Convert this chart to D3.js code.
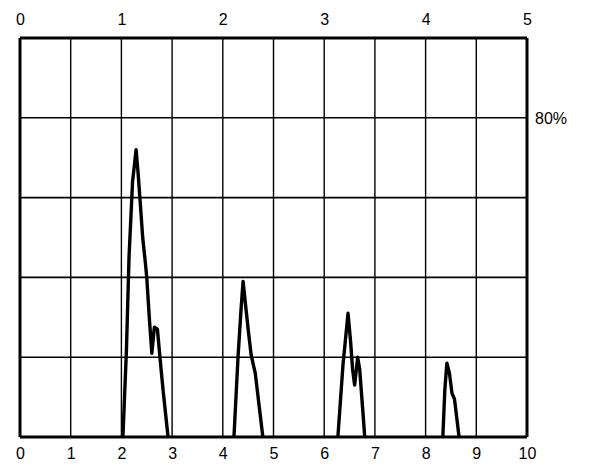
<!DOCTYPE html>
<head>
  <meta charset="utf-8">
  <script src="https://d3js.org/d3.v7.min.js"></script>
  <style>
    body { margin:0; background:#fff; }
    text { font-family: "Liberation Sans", Arial, sans-serif; font-size:16px; fill:#000; }
  </style>
</head>
<body>
<script>
var width = 592, height = 466;

// top scale 0..5, bottom scale 0..10, y in percent
var topTicks = [0, 1, 2, 3, 4, 5];
var bottomTicks = [0, 1, 2, 3, 4, 5, 6, 7, 8, 9, 10];
var yGrid = [0, 20, 40, 60, 80, 100];

// peaks: [x on bottom scale, percent]
var peak1 = [[2.03,0],[2.1,22],[2.15,45],[2.22,64],[2.29,72],[2.33,66],[2.37,59],[2.42,50],[2.47,44],[2.5,40],[2.55,30],[2.6,21],[2.65,27.5],[2.71,27],[2.76,20],[2.82,12],[2.92,0]];
var peak2 = [[4.22,0],[4.3,20],[4.36,32],[4.4,39],[4.45,33],[4.5,27],[4.56,20.5],[4.64,16],[4.79,0]];
var peak3 = [[6.27,0],[6.37,18],[6.47,31],[6.52,24],[6.56,17],[6.6,13],[6.66,20],[6.7,17],[6.8,0]];
var peak4 = [[8.34,0],[8.38,12],[8.42,18.5],[8.47,16],[8.52,11],[8.57,9.5],[8.66,0]];
var peaks = [peak1, peak2, peak3, peak4];

var svg = d3.select("body").append("svg")
    .attr("width", width)
    .attr("height", height);

var x = d3.scaleLinear().domain([0, 10]).range([20, 527]);
var xTop = d3.scaleLinear().domain([0, 5]).range([20, 527]);
var y = d3.scaleLinear().domain([0, 100]).range([437, 38]);

// grid
svg.selectAll("line.v")
    .data(bottomTicks)
    .enter().append("line")
    .attr("x1", d => x(d)).attr("x2", d => x(d))
    .attr("y1", y(0)).attr("y2", y(100))
    .attr("stroke", "#000")
    .attr("stroke-width", d => (d == 0 || d == 10) ? 3 : 1.4);

svg.selectAll("line.h")
    .data(yGrid)
    .enter().append("line")
    .attr("x1", x(0)).attr("x2", x(10))
    .attr("y1", d => y(d)).attr("y2", d => y(d))
    .attr("stroke", "#000")
    .attr("stroke-width", d => (d == 0 || d == 100) ? 3 : 1.6);

// axes labels
var bottomAxis = d3.axisBottom(x).tickValues(bottomTicks).tickFormat(d3.format("d")).tickSize(0).tickPadding(11);
svg.append("g").attr("transform", "translate(0," + y(0) + ")").call(bottomAxis)
  .call(g => g.select(".domain").remove())
  .selectAll("text").style("font-size", "16px").attr("font-family", null);

var topAxis = d3.axisTop(xTop).tickValues(topTicks).tickFormat(d3.format("d")).tickSize(0).tickPadding(13);
svg.append("g").attr("transform", "translate(0," + y(100) + ")").call(topAxis)
  .call(g => g.select(".domain").remove())
  .selectAll("text").style("font-size", "16px").attr("font-family", null);

svg.append("text")
    .attr("x", x(10) + 8)
    .attr("y", y(80) + 6)
    .text("80%");

// spectrum peaks
var line = d3.line()
    .x(d => x(d[0]))
    .y(d => y(d[1]));

svg.selectAll("path.peak")
    .data(peaks)
    .enter().append("path")
    .attr("class", "peak")
    .attr("d", line)
    .attr("fill", "none")
    .attr("stroke", "#000")
    .attr("stroke-width", 3.4)
    .attr("stroke-linejoin", "round");
</script>
</body>
